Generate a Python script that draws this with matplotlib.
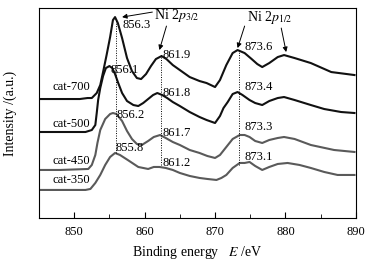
import numpy as np
import matplotlib
matplotlib.use("Agg")
import matplotlib.pyplot as plt

plt.rcParams['font.family'] = ['Liberation Serif', 'DejaVu Serif']
plt.rcParams['mathtext.fontset'] = 'stix'
plt.rcParams['font.size'] = 9

# XPS Ni 2p spectra, binding energy (eV) vs intensity (a.u., offset)
e_700 = [845.0, 848.0, 850.8, 851.9, 852.5, 853.2, 853.7, 854.1, 854.6, 855.1, 855.5, 855.8,
         856.2, 856.8, 857.5, 858.2, 858.9, 859.5, 860.2, 860.9, 861.6, 862.4, 863.1, 864.0,
         865.0, 866.4, 867.8, 868.8, 870.0, 870.7, 871.6, 872.5, 873.2, 874.2, 875.2, 876.0,
         876.7, 877.7, 878.9, 879.8, 881.3, 883.6, 886.5, 889.8]
i_700 = [119, 119, 119, 120, 120, 125, 133, 146, 163, 181, 198, 201,
         195, 180, 160, 147, 140, 139, 144, 152, 159, 162, 159, 153,
         148, 141, 137, 135, 131, 138, 153, 165, 168, 165, 159, 154,
         151, 155, 161, 163, 160, 155, 146, 143]

e_500 = [845.0, 848.0, 851.6, 852.5, 853.0, 853.2, 853.4, 853.7, 854.1, 854.5, 855.0, 855.4,
         855.8, 856.2, 856.8, 857.5, 858.4, 859.1, 859.8, 860.5, 861.2, 861.8, 862.5, 863.2,
         864.0, 865.0, 866.4, 867.8, 868.8, 870.0, 870.7, 871.2, 871.8, 872.5, 873.2, 873.9,
         874.9, 875.7, 876.7, 877.7, 878.9, 879.8, 881.3, 883.6, 885.5, 887.9, 889.8]
i_500 = [86, 86, 86, 88, 93, 105, 118, 130, 142, 150, 152, 150,
         144, 136, 125, 117, 113, 112, 115, 119, 123, 125, 123, 120,
         116, 112, 106, 101, 98, 95, 102, 110, 116, 124, 126, 123,
         118, 115, 113, 117, 120, 121, 118, 113, 109, 106, 105]

e_450 = [845.0, 848.0, 852.0, 852.5, 853.0, 853.3, 853.7, 854.4, 855.1, 855.5, 856.0, 856.8,
         857.5, 858.2, 858.9, 859.6, 860.5, 861.3, 862.2, 863.0, 864.0, 865.0, 866.4, 867.8,
         868.9, 870.0, 870.7, 871.6, 872.5, 873.5, 874.2, 874.9, 875.7, 876.7, 877.7, 878.9,
         879.8, 881.3, 883.6, 886.9, 889.8]
i_450 = [48, 48, 49, 53, 63, 75, 88, 99, 104, 105, 104, 97,
         87, 79, 74, 73, 77, 81, 83, 80, 76, 73, 68, 65,
         62, 60, 63, 71, 79, 83, 83, 81, 77, 75, 78, 80,
         81, 79, 73, 68, 66]

e_350 = [845.0, 848.0, 851.6, 852.3, 853.0, 853.7, 854.4, 855.1, 855.8, 856.5, 857.6, 859.1,
         860.5, 861.3, 862.1, 863.0, 864.0, 865.0, 866.4, 867.8, 868.9, 870.2, 870.9, 871.6,
         872.5, 873.5, 874.2, 874.9, 875.7, 876.7, 877.7, 878.9, 880.3, 882.0, 883.6, 885.5,
         887.4, 889.8]
i_350 = [28, 28, 28, 29, 35, 43, 53, 61, 65, 63, 58, 51,
         49, 51, 51, 50, 48, 45, 42, 40, 39, 38, 40, 43,
         50, 55, 55, 56, 52, 48, 51, 54, 55, 53, 50, 46,
         43, 43]

samples = ['cat-700', 'cat-500', 'cat-450', 'cat-350']
sample_label_y = [131, 94, 57, 38]
peak_labels = [['856.3', '861.9', '873.6'],
               ['856.1', '861.8', '873.4'],
               ['856.2', '861.7', '873.3'],
               ['855.8', '861.2', '873.1']]
peak_label_x = [[856.9, 862.6, 874.2],
                [855.1, 862.6, 874.2],
                [856.0, 862.6, 874.2],
                [855.8, 862.6, 874.2]]
peak_label_y = [[193, 163, 171],
                [148, 125, 131],
                [103, 85, 91],
                [70, 55, 61]]
guide_x = [855.9, 862.3, 873.4]
guide_top = [198, 163, 168]
guide_bottom = [65, 53, 53]

fig = plt.figure(figsize=(3.86, 2.61), dpi=100)
ax = fig.add_axes([0.101, 0.165, 0.821, 0.804])

colors = ['#111111', '#111111', '#5a5a5a', '#5a5a5a']
curves = [(e_700, i_700), (e_500, i_500), (e_450, i_450), (e_350, i_350)]
for (e, i), c in zip(curves, colors):
    ax.plot(e, i, color=c, lw=1.5)

ax.vlines(guide_x, guide_bottom, guide_top, colors='k', linestyles=(0, (1, 1.5)), lw=0.7)

for name, y in zip(samples, sample_label_y):
    ax.text(852.3, y, name, ha='right', va='center')

for labs, xs, ys in zip(peak_labels, peak_label_x, peak_label_y):
    for lab, x, y in zip(labs, xs, ys):
        ax.text(x, y, lab, ha='left', va='center')

ax.text(861.4, 203, r'Ni 2$p_{3/2}$', ha='left', va='center', fontsize=10)
ax.text(874.6, 201, r'Ni 2$p_{1/2}$', ha='left', va='center', fontsize=10)

arrow = dict(arrowstyle='-|>', color='k', lw=0.7, mutation_scale=7, shrinkA=0, shrinkB=0)
ax.annotate('', xy=(856.8, 201), xytext=(861.1, 206), arrowprops=arrow)
ax.annotate('', xy=(862.1, 168), xytext=(863.1, 192), arrowprops=arrow)
ax.annotate('', xy=(873.2, 170), xytext=(874.2, 192), arrowprops=arrow)
ax.annotate('', xy=(880.1, 166), xytext=(879.4, 190), arrowprops=arrow)

ax.set_xlim(845, 890)
ax.set_ylim(0, 210)
ax.set_xticks([850, 860, 870, 880, 890])
ax.set_xticks([855, 865, 875, 885], minor=True)
ax.tick_params(axis='x', which='both', direction='in', top=False)
ax.tick_params(axis='x', which='major', length=4, pad=6)
ax.tick_params(axis='x', which='minor', length=3)
ax.set_yticks([])
ax.set_xlabel(r'Binding energy   $E$ /eV', fontsize=10)
ax.set_ylabel('Intensity /(a.u.)', fontsize=10)
ax.yaxis.set_label_coords(-0.07, 0.5)

fig.savefig('out.png', dpi=100)
